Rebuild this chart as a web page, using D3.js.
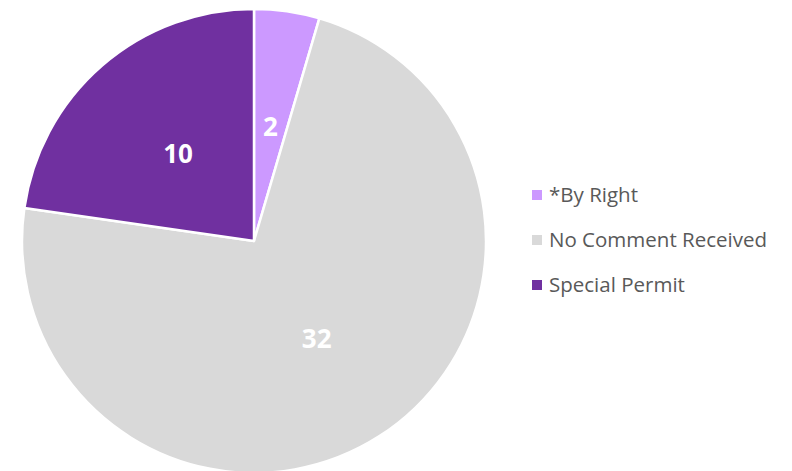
<!DOCTYPE html>
<html>
<head>
<meta charset="utf-8">
<script src="https://cdn.jsdelivr.net/npm/d3@7"></script>
<style>
  body { margin: 0; background: #fff; }
  svg { display: block; }
</style>
</head>
<body>
<svg id="chart" width="792" height="471"></svg>
<script>
const categories = ['*By Right', 'No Comment Received', 'Special Permit']
const counts = [2, 32, 10]
const colors = ['#CC99FF', '#D9D9D9', '#7030A0']

function main() {
    let svg = d3.select('#chart'),
        cx = 254, cy = 241, radius = 232

    let data = categories.map((c, i) => ({name: c, value: counts[i]}))

    let color = d3.scaleOrdinal().domain(categories).range(colors)

    let pie = d3.pie().sort(null).value(d => d.value)
    let arc = d3.arc().innerRadius(0).outerRadius(radius)
    let labelArc = d3.arc().innerRadius(radius * 0.5).outerRadius(radius * 0.5)

    let g = svg.append('g').attr('transform', 'translate(' + cx + ',' + cy + ')')

    let slices = g.selectAll('.slice')
        .data(pie(data))
        .enter().append('g')
        .attr('class', 'slice')

    slices.append('path')
        .attr('d', arc)
        .attr('fill', d => color(d.data.name))
        .attr('stroke', '#fff')
        .attr('stroke-width', 2.5)
        .attr('stroke-linejoin', 'round')

    slices.append('text')
        .attr('transform', d => 'translate(' + labelArc.centroid(d) + ')')
        .attr('text-anchor', 'middle')
        .attr('dy', '0.36em')
        .attr('fill', '#fff')
        .style('font-family', '"Open Sans", sans-serif')
        .style('font-weight', 'bold')
        .style('font-size', '26px')
        .text(d => d.data.value)

    // legend
    let legend = svg.append('g').attr('transform', 'translate(532,195)')
    let rows = legend.selectAll('.row')
        .data(categories)
        .enter().append('g')
        .attr('class', 'row')
        .attr('transform', (d, i) => 'translate(0,' + (i * 45) + ')')

    rows.append('rect')
        .attr('x', 0)
        .attr('y', -5)
        .attr('width', 10)
        .attr('height', 10)
        .attr('fill', d => color(d))

    rows.append('text')
        .attr('x', 17)
        .attr('dy', '0.35em')
        .attr('fill', '#595959')
        .style('font-family', '"Open Sans", sans-serif')
        .style('font-size', '20.5px')
        .text(d => d)
}

main()
</script>
</body>
</html>
